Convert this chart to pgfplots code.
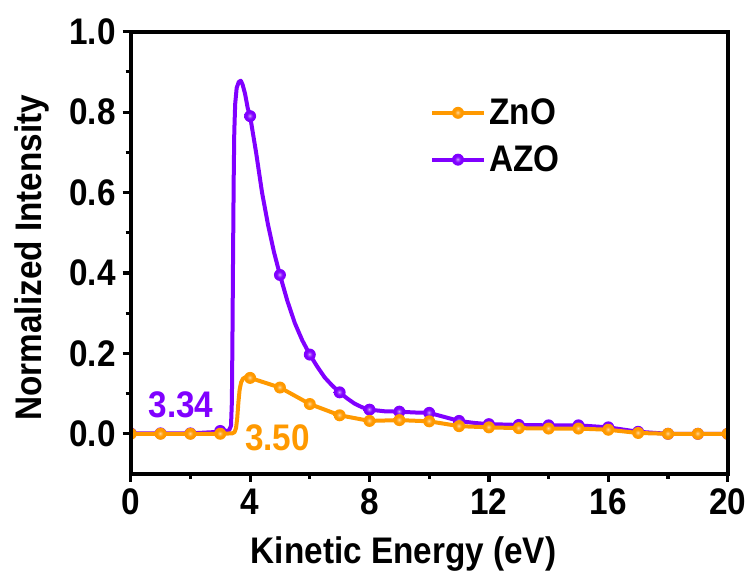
\documentclass[border=0pt]{standalone}
\usepackage{fontspec}
\setmainfont{Liberation Sans}[FakeStretch=0.9]
\usepackage{pgfplots}
\pgfplotsset{compat=1.18}

\definecolor{znocol}{RGB}{255,153,0}
\definecolor{azocol}{RGB}{128,0,255}

% glossy round markers
\pgfdeclareradialshading{znoshade}{\pgfpoint{-2bp}{2bp}}{color(0bp)=(znocol!30!white); color(5bp)=(znocol!70!white); color(13bp)=(znocol); color(50bp)=(znocol)}
\pgfdeclareradialshading{azoshade}{\pgfpoint{-2bp}{2bp}}{color(0bp)=(azocol!30!white); color(5bp)=(azocol!70!white); color(13bp)=(azocol); color(50bp)=(azocol)}
\pgfdeclareplotmark{znoball}{\pgfpathcircle{\pgfpointorigin}{\pgfplotmarksize}\pgfshadepath{znoshade}{0}\pgfusepath{}}
\pgfdeclareplotmark{azoball}{\pgfpathcircle{\pgfpointorigin}{\pgfplotmarksize}\pgfshadepath{azoshade}{0}\pgfusepath{}}

\newcommand{\lab}{\fontsize{18.5}{22}\selectfont\bfseries}

\pgfplotsset{
    znoline/.style={color=znocol, line width=2pt, line join=round},
    azoline/.style={color=azocol, line width=2pt, line join=round},
}

\begin{document}
\begin{tikzpicture}
\begin{axis}[
    at={(0,0)}, anchor=south west,
    scale only axis,
    width=298.5pt, height=221.15pt,
    xmin=0, xmax=20, ymin=-0.1, ymax=1.0,
    xtick={0,4,8,12,16,20}, minor x tick num=1,
    ytick={0,0.2,0.4,0.6,0.8,1.0}, minor y tick num=1,
    tick pos=left, tick align=outside,
    major tick length=4pt, minor tick length=2.5pt,
    every tick/.style={black, line width=1.6pt},
    axis line style={line width=2.1pt},
    axis on top,
    clip marker paths=true,
    ticklabel style={font=\lab},
    /pgf/number format/assume math mode=true,
    yticklabel style={/pgf/number format/.cd, fixed, fixed zerofill, precision=1},
    xlabel={Kinetic Energy (eV)},
    ylabel={Normalized Intensity},
    label style={font=\lab},
    xlabel style={at={(axis description cs:0.457,-0.2014)}, anchor=base},
    ylabel style={at={(axis description cs:-0.1486,0.489)}, anchor=base},
    legend style={at={(axis cs:10.03,0.845)}, anchor=north west, draw=none, fill=none,
        font=\lab, row sep=5pt, inner sep=0pt},
    legend cell align=left,
    legend image code/.code={\draw[mark repeat=2, mark phase=2, #1] plot coordinates {(0pt,0pt) (12.75pt,0pt) (25.5pt,0pt)};},
]

\addlegendimage{znoline, mark=znoball, mark size=3pt}
\addlegendentry{ZnO}
\addlegendimage{azoline, mark=azoball, mark size=3pt}
\addlegendentry{AZO}

% AZO curve
\addplot[azoline, forget plot] coordinates {
    (0,0.001) (1,0.001) (2,0.001) (3,0.005) (3.2,0.007) (3.3,0.009) (3.36,0.02)
    (3.39,0.08) (3.41,0.25) (3.43,0.45) (3.45,0.63) (3.47,0.75) (3.50,0.82)
    (3.55,0.86) (3.62,0.875) (3.69,0.878) (3.75,0.868) (3.83,0.846) (3.92,0.810)
    (4.0,0.790) (4.2,0.700) (4.4,0.600) (4.6,0.520) (4.8,0.452) (5.0,0.395)
    (5.25,0.330) (5.5,0.275) (5.75,0.232) (6.0,0.197) (6.25,0.167) (6.5,0.140)
    (6.75,0.120) (7.0,0.103) (7.25,0.088) (7.5,0.075) (7.75,0.066) (8.0,0.060)
    (8.5,0.056) (9.0,0.055) (9.5,0.053) (10.0,0.052) (10.5,0.042) (11.0,0.032)
    (11.5,0.027) (12.0,0.024) (13.0,0.022) (14.0,0.021) (15.0,0.021) (16.0,0.016)
    (17.0,0.005) (18.0,0.000) (19,0.000) (20,0.000)
};
\addplot[only marks, mark=azoball, mark size=3pt, forget plot] coordinates {
    (0,0.001) (1,0.001) (2,0.001) (3,0.007) (4,0.790) (5,0.395) (6,0.197) (7,0.103)
    (8,0.060) (9,0.055) (10,0.052) (11,0.032) (12,0.024) (13,0.022) (14,0.021)
    (15,0.021) (16,0.016) (17,0.005) (18,0.000) (19,0.000) (20,0.000)
};

% ZnO curve
\addplot[znoline, forget plot] coordinates {
    (0,0) (1,0) (2,0) (3,0) (3.4,0.001) (3.48,0.004) (3.53,0.015) (3.57,0.04)
    (3.61,0.08) (3.65,0.11) (3.70,0.128) (3.76,0.137) (3.85,0.141) (3.95,0.140)
    (4,0.139) (5,0.115) (6,0.074) (7,0.046) (8,0.032) (9,0.034) (10,0.031)
    (11,0.019) (12,0.016) (13,0.014) (14,0.013) (15,0.013) (16,0.010) (17,0.002)
    (18,0) (19,0) (20,0)
};
\addplot[only marks, mark=znoball, mark size=3pt, forget plot] coordinates {
    (0,0) (1,0) (2,0) (3,0) (4,0.139) (5,0.115) (6,0.074) (7,0.046) (8,0.032)
    (9,0.034) (10,0.031) (11,0.019) (12,0.016) (13,0.014) (14,0.013) (15,0.013)
    (16,0.010) (17,0.002) (18,0) (19,0) (20,0)
};

\node[font=\lab, text=azocol, inner sep=0pt] at (axis cs:1.685,0.072) {3.34};
\node[font=\lab, text=znocol, inner sep=0pt] at (axis cs:4.92,-0.011) {3.50};

\end{axis}
\pgfresetboundingbox
\path[use as bounding box] (-65.35pt,-53.5pt) rectangle (311.65pt,237pt);
\end{tikzpicture}
\end{document}
